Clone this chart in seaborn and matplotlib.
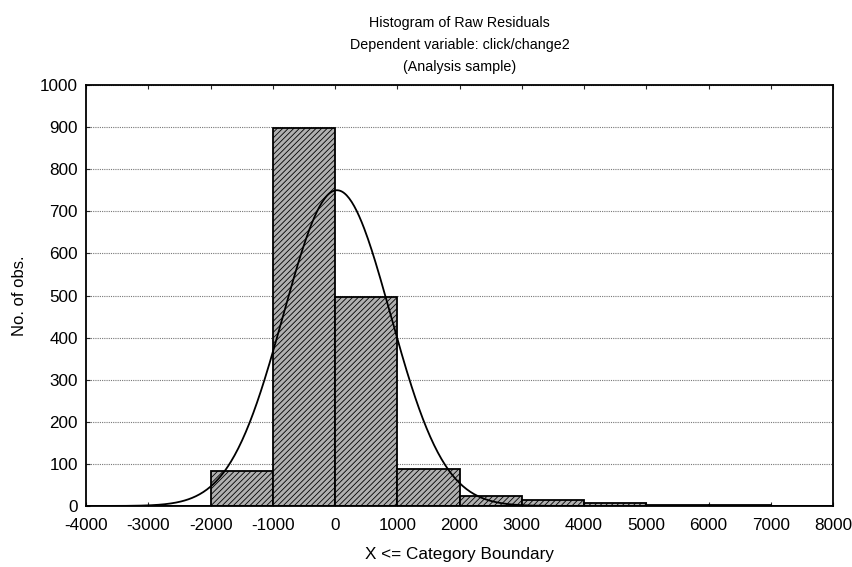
import numpy as np
import pandas as pd
import matplotlib
matplotlib.use("Agg")
import matplotlib.pyplot as plt
import seaborn as sns

# Histogram counts (bin width 1000)
bin_edges = [-4000, -3000, -2000, -1000, 0, 1000, 2000, 3000, 4000, 5000, 6000, 7000, 8000]
counts = [0, 1, 84, 898, 496, 89, 24, 15, 6, 2, 2, 0]

# fitted normal curve parameters
fit_mean = 30
fit_sd = 860

sns.set_style("white")
plt.rcParams['font.family'] = ['Liberation Sans', 'DejaVu Sans']
plt.rcParams['axes.unicode_minus'] = False
plt.rcParams['text.color'] = 'black'
plt.rcParams['hatch.color'] = '#2a2a2a'
plt.rcParams['hatch.linewidth'] = 0.6

centers = [(a + b) / 2 for a, b in zip(bin_edges[:-1], bin_edges[1:])]
df = pd.DataFrame({'x': centers, 'n': counts})

fig = plt.figure(figsize=(8.53, 5.67), dpi=100)
ax = fig.add_axes([0.101, 0.1076, 0.8756, 0.7424])

sns.histplot(data=df, x='x', weights='n', bins=bin_edges, ax=ax,
             color='#b0b0b0', alpha=1, edgecolor='black', linewidth=1.3)
for p in ax.patches:
    p.set_hatch('//////')

# expected normal counts per bin
total = sum(counts)
xs = np.linspace(-4000, 8000, 600)
ys = total * 1000 / (fit_sd * np.sqrt(2 * np.pi)) * np.exp(-0.5 * ((xs - fit_mean) / fit_sd) ** 2)
sns.lineplot(x=xs, y=ys, ax=ax, color='black', linewidth=1.3)

ax.set_xlim(-4000, 8000)
ax.set_ylim(0, 1000)
ax.set_xticks(range(-4000, 8001, 1000))
ax.set_yticks(range(0, 1001, 100))
ax.yaxis.grid(True, color='#777777', linestyle=(0, (1, 1)), linewidth=0.8)
ax.set_axisbelow(True)
ax.tick_params(direction='in', length=3, labelsize=12.3, labelcolor='black',
               top=True, bottom=True, left=True, right=False)
ax.tick_params(axis='x', pad=9)
ax.tick_params(axis='y', pad=6)
for s in ax.spines.values():
    s.set_linewidth(1.3)
    s.set_color('black')

ax.set_xlabel("X <= Category Boundary", fontsize=12.3, labelpad=10, color='black')
ax.set_ylabel("No. of obs.", fontsize=12, labelpad=9, color='black')
ax.set_title("Histogram of Raw Residuals\nDependent variable: click/change2\n(Analysis sample)",
             fontsize=10.3, linespacing=1.75, pad=10, color='black')

plt.savefig("out.png", dpi=100)
